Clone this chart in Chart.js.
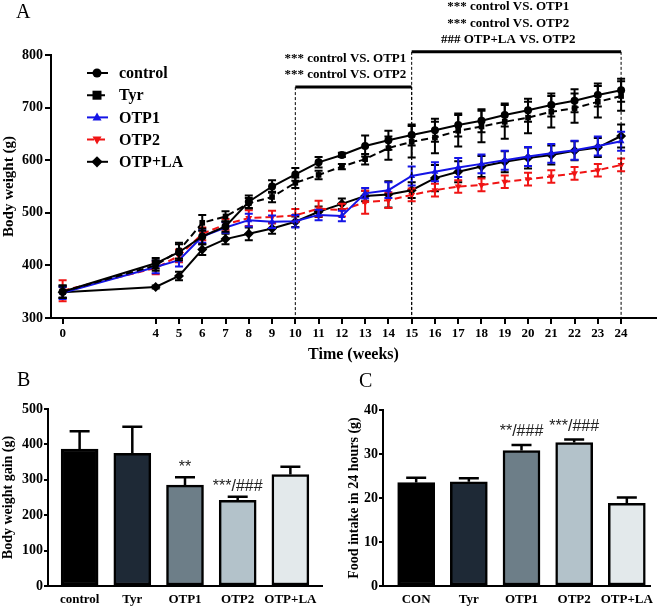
<!DOCTYPE html>
<html>
<head>
<meta charset="utf-8">
<script src="https://cdn.jsdelivr.net/npm/chart.js@4.4.0/dist/chart.umd.min.js"></script>
<style>
    body { margin: 0; background: #fff; }
    #wrap { position: relative; width: 661px; height: 608px; overflow: hidden; font-family: 'Liberation Serif', serif; }
    .panel { position: absolute; }
    .letter { position: absolute; font-size: 20px; line-height: 1; color: #000; }
</style>
</head>
<body>
<div id="wrap">
    <div class="panel" style="left:0;top:0;width:661px;height:370px"><canvas id="chartA"></canvas></div>
    <div class="panel" style="left:0;top:370px;width:330px;height:238px"><canvas id="chartB"></canvas></div>
    <div class="panel" style="left:330px;top:370px;width:331px;height:238px"><canvas id="chartC"></canvas></div>
    <div class="letter" style="left:16px;top:1px">A</div>
    <div class="letter" style="left:17px;top:369px">B</div>
    <div class="letter" style="left:359px;top:370px">C</div>
</div>
<script>
// ---- Panel A data (body weight over time) ----
const weeks = [0, 4, 5, 6, 7, 8, 9, 10, 11, 12, 13, 14, 15, 16, 17, 18, 19, 20, 21, 22, 23, 24];
const weekTicks = [0, 4, 5, 6, 7, 8, 9, 10, 11, 12, 13, 14, 15, 16, 17, 18, 19, 20, 21, 22, 23, 24];

const controlWeight = [350, 404, 425, 455, 474, 521, 550, 573, 596, 610, 627, 638, 648, 657, 667, 675, 686, 695, 705, 713, 724, 733];
const controlErr    = [12, 10, 15, 15, 10, 12, 12, 12, 10, 4, 20, 18, 20, 22, 22, 22, 22, 22, 22, 22, 22, 22];
const tyrWeight     = [350, 400, 428, 481, 493, 518, 530, 557, 572, 588, 602, 623, 635, 643, 656, 664, 673, 681, 692, 699, 711, 722];
const tyrErr        = [12, 10, 15, 15, 10, 10, 10, 10, 8, 5, 10, 22, 30, 30, 30, 30, 32, 30, 30, 28, 30, 28];
const otp1Weight    = [348, 397, 410, 455, 472, 486, 483, 484, 496, 494, 537, 543, 570, 578, 586, 593, 600, 607, 613, 619, 627, 636];
const otp1Err       = [12, 12, 12, 12, 10, 12, 12, 12, 10, 10, 10, 15, 18, 18, 18, 18, 18, 18, 18, 18, 18, 18];
const otp2Weight    = [352, 395, 418, 460, 478, 490, 492, 495, 508, 505, 520, 524, 534, 543, 550, 553, 559, 564, 569, 575, 581, 591];
const otp2Err       = [20, 12, 12, 12, 10, 15, 12, 12, 15, 12, 22, 15, 12, 12, 12, 12, 12, 12, 12, 12, 12, 12];
const otpLaWeight   = [349, 359, 380, 430, 450, 460, 470, 483, 502, 517, 532, 535, 543, 566, 578, 588, 597, 604, 610, 618, 624, 646];
const otpLaErr      = [10, 3, 8, 10, 10, 12, 10, 10, 10, 10, 10, 25, 15, 25, 20, 20, 20, 20, 18, 18, 18, 22];

// ---- Panel B data (body weight gain) ----
const gainLabels = ['control', 'Tyr', 'OTP1', 'OTP2', 'OTP+LA'];
const gainValues = [387, 375, 285, 242, 315];
const gainErr    = [50, 75, 22, 10, 22];
const gainMarks  = ['', '', '**', '***/###', ''];

// ---- Panel C data (food intake) ----
const foodLabels = ['CON', 'Tyr', 'OTP1', 'OTP2', 'OTP+LA'];
const foodValues = [23.5, 23.7, 30.8, 32.6, 18.8];
const foodErr    = [1.1, 0.8, 1.25, 0.7, 1.3];
const foodMarks  = ['', '', '**/###', '***/###', ''];

const barColors = ['#000000', '#1e2936', '#6d7e88', '#b3c2ca', '#e3e9eb'];

const SERIF = "'Liberation Serif', 'Times New Roman', serif";
Chart.defaults.color = '#000';
Chart.defaults.font.family = SERIF;

// Draw a marker shape (used by the legend)
function drawMarker(ctx, style, x, y, r, color) {
    ctx.save();
    ctx.fillStyle = color;
    ctx.setLineDash([]);
    ctx.beginPath();
    if (style === 'circle') {
        ctx.arc(x, y, r, 0, Math.PI * 2);
    } else if (style === 'rect') {
        ctx.rect(x - r, y - r, r * 2, r * 2);
    } else if (style === 'triangle') {
        ctx.moveTo(x, y - r * 1.1);
        ctx.lineTo(x + r, y + r * 0.7);
        ctx.lineTo(x - r, y + r * 0.7);
    } else if (style === 'triangleDown') {
        ctx.moveTo(x, y + r * 1.1);
        ctx.lineTo(x + r, y - r * 0.7);
        ctx.lineTo(x - r, y - r * 0.7);
    } else {
        ctx.moveTo(x, y - r * 1.25);
        ctx.lineTo(x + r * 1.25, y);
        ctx.lineTo(x, y + r * 1.25);
        ctx.lineTo(x - r * 1.25, y);
    }
    ctx.closePath();
    ctx.fill();
    ctx.restore();
}

// Error bars (two-sided for lines, upper only for bars)
const errorBarPlugin = {
    id: 'errorBars',
    afterDatasetDraw(chart, args) {
        const ds = chart.data.datasets[args.index];
        if (!ds.errors) return;
        const yScale = chart.scales.y;
        const ctx = chart.ctx;
        ctx.save();
        ctx.strokeStyle = ds.errorColor || ds.borderColor;
        ctx.lineWidth = ds.errorWidth || 2;
        ctx.setLineDash([]);
        args.meta.data.forEach((el, j) => {
            const v = ds.data[j].y;
            const e = ds.errors[j];
            const x = el.x;
            const top = yScale.getPixelForValue(v + e);
            const bot = ds.upperOnly ? yScale.getPixelForValue(v) : yScale.getPixelForValue(v - e);
            const cap = ds.capWidth || 4;
            ctx.beginPath();
            ctx.moveTo(x, top); ctx.lineTo(x, bot);
            ctx.moveTo(x - cap, top); ctx.lineTo(x + cap, top);
            if (!ds.upperOnly) { ctx.moveTo(x - cap, bot); ctx.lineTo(x + cap, bot); }
            ctx.stroke();
        });
        ctx.restore();
    }
};

// Significance brackets + legend for panel A
const panelAPlugin = {
    id: 'panelA',
    afterDraw(chart) {
        const ctx = chart.ctx;
        const x = chart.scales.x;
        const y = chart.scales.y;
        const bottom = chart.chartArea.bottom;
        const brackets = [
            { from: 10, to: 15, level: 739, textAt: 12.15, lines: ['*** control VS. OTP1', '*** control VS. OTP2'] },
            { from: 15, to: 24, level: 806, textAt: 19.15, lines: ['*** control VS. OTP1', '*** control VS. OTP2', '### OTP+LA VS. OTP2'] }
        ];
        ctx.save();
        brackets.forEach(b => {
            const by = y.getPixelForValue(b.level);
            const x1 = x.getPixelForValue(b.from);
            const x2 = x.getPixelForValue(b.to);
            ctx.strokeStyle = '#000';
            ctx.lineWidth = 1;
            ctx.setLineDash([3, 2]);
            ctx.beginPath();
            ctx.moveTo(x1, by); ctx.lineTo(x1, bottom);
            ctx.moveTo(x2, by); ctx.lineTo(x2, bottom);
            ctx.stroke();
            ctx.setLineDash([]);
            ctx.lineWidth = 3;
            ctx.beginPath();
            ctx.moveTo(x1, by); ctx.lineTo(x2, by);
            ctx.stroke();
            ctx.fillStyle = '#000';
            ctx.font = 'bold 13px ' + SERIF;
            ctx.textAlign = 'center';
            ctx.textBaseline = 'middle';
            const tx = x.getPixelForValue(b.textAt);
            const n = b.lines.length;
            b.lines.forEach((t, k) => {
                ctx.fillText(t, tx, by - 12 - (n - 1 - k) * 16.5);
            });
        });

        // legend
        const lx = chart.chartArea.left + 36;
        let ly = chart.chartArea.top + 18;
        ctx.font = 'bold 16px ' + SERIF;
        ctx.textAlign = 'left';
        ctx.textBaseline = 'middle';
        chart.data.datasets.forEach(ds => {
            ctx.strokeStyle = ds.borderColor;
            ctx.lineWidth = 2;
            ctx.setLineDash(ds.borderDash || []);
            ctx.beginPath();
            ctx.moveTo(lx, ly); ctx.lineTo(lx + 21, ly);
            ctx.stroke();
            drawMarker(ctx, ds.legendMarker, lx + 10, ly, 4.5, ds.borderColor);
            ctx.fillStyle = '#000';
            ctx.fillText(ds.label, lx + 32, ly + 1);
            ly += 22.2;
        });
        ctx.restore();
    }
};

// Text marks above bars (panels B and C)
const barMarksPlugin = {
    id: 'barMarks',
    afterDatasetsDraw(chart, args, opts) {
        const ds = chart.data.datasets[0];
        const ctx = chart.ctx;
        const y = chart.scales.y;
        ctx.save();
        ctx.fillStyle = '#222';
        ctx.font = '16px "Liberation Sans", sans-serif';
        ctx.textAlign = 'center';
        ctx.textBaseline = 'middle';
        chart.getDatasetMeta(0).data.forEach((el, j) => {
            const m = opts.marks[j];
            if (!m) return;
            ctx.fillText(m, el.x, y.getPixelForValue(ds.data[j].y + ds.errors[j]) - opts.gap);
        });
        ctx.restore();
    }
};

function lineSet(label, values, errors, color, dash, style, rotation, marker) {
    return {
        label: label,
        data: weeks.map((w, i) => ({ x: w, y: values[i] })),
        errors: errors,
        borderColor: color,
        backgroundColor: color,
        borderWidth: 2,
        borderDash: dash,
        pointStyle: style,
        rotation: rotation,
        pointRadius: style === 'rectRot' ? 5 : 4,
        pointBorderWidth: 0,
        tension: 0,
        legendMarker: marker,
        capWidth: 4
    };
}

new Chart(document.getElementById('chartA'), {
    type: 'line',
    data: {
        datasets: [
            lineSet('control', controlWeight, controlErr, '#000000', [], 'circle', 0, 'circle'),
            lineSet('Tyr', tyrWeight, tyrErr, '#000000', [7, 4], 'rect', 0, 'rect'),
            lineSet('OTP1', otp1Weight, otp1Err, '#1414e6', [], 'triangle', 0, 'triangle'),
            lineSet('OTP2', otp2Weight, otp2Err, '#f01414', [7, 4], 'triangle', 180, 'triangleDown'),
            lineSet('OTP+LA', otpLaWeight, otpLaErr, '#000000', [], 'rectRot', 0, 'rectRot')
        ]
    },
    options: {
        responsive: true,
        maintainAspectRatio: false,
        animation: false,
        layout: { padding: { top: 55, right: 3, left: 0, bottom: 0 } },
        plugins: { legend: { display: false }, tooltip: { enabled: false } },
        scales: {
            x: {
                type: 'linear',
                min: -0.5,
                max: 25.5,
                afterBuildTicks: s => { s.ticks = weekTicks.map(v => ({ value: v })); },
                afterFit: s => { s.height = 52; },
                grid: { drawOnChartArea: false, tickLength: 6, color: '#000', lineWidth: 2 },
                border: { color: '#000', width: 2 },
                ticks: { color: '#000', autoSkip: false, maxRotation: 0, padding: 2, font: { size: 13, weight: 'bold' } },
                title: { display: true, text: 'Time (weeks)', color: '#000', font: { size: 16, weight: 'bold' }, padding: { top: 0, bottom: 6 } }
            },
            y: {
                min: 300,
                max: 800,
                afterFit: s => { s.width = 51; },
                grid: { drawOnChartArea: false, tickLength: 6, color: '#000', lineWidth: 2 },
                border: { color: '#000', width: 2 },
                ticks: { stepSize: 100, color: '#000', padding: 2, font: { size: 14, weight: 'bold' } },
                title: { display: true, text: 'Body weight (g)', color: '#000', font: { size: 15, weight: 'bold' }, padding: { top: 0, bottom: 2 } }
            }
        }
    },
    plugins: [errorBarPlugin, panelAPlugin]
});

function barChart(id, labels, values, errors, marks, yMax, yStep, yTitle, pad, yWidth, xMin, xMax, gap) {
    return new Chart(document.getElementById(id), {
        type: 'bar',
        data: {
            datasets: [{
                data: values.map((v, i) => ({ x: i, y: v })),
                errors: errors,
                upperOnly: true,
                errorColor: '#000',
                errorWidth: 2.5,
                capWidth: 10,
                backgroundColor: barColors,
                borderColor: '#000',
                borderWidth: 2.5,
                borderSkipped: false,
                barThickness: 37
            }]
        },
        options: {
            responsive: true,
            maintainAspectRatio: false,
            animation: false,
            layout: { padding: pad },
            plugins: { legend: { display: false }, tooltip: { enabled: false }, barMarks: { marks: marks, gap: gap } },
            scales: {
                x: {
                    type: 'linear',
                    offset: false,
                    min: xMin,
                    max: xMax,
                    afterBuildTicks: s => { s.ticks = labels.map((l, i) => ({ value: i })); },
                    afterFit: s => { s.height = 22; },
                    grid: { display: false, drawTicks: false, tickLength: 0, offset: false },
                    border: { color: '#000', width: 2 },
                    ticks: { color: '#000', autoSkip: false, maxRotation: 0, padding: 6, font: { size: 13, weight: 'bold' },
                        callback: v => labels[v] }
                },
                y: {
                    min: 0,
                    max: yMax,
                    afterFit: s => { s.width = yWidth; },
                    grid: { drawOnChartArea: false, tickLength: 4, color: '#000', lineWidth: 2 },
                    border: { color: '#000', width: 2 },
                    ticks: { stepSize: yStep, color: '#000', padding: 1, font: { size: 14, weight: 'bold' } },
                    title: { display: true, text: yTitle, color: '#000', font: { size: 14, weight: 'bold' }, padding: { top: 0, bottom: 2 } }
                }
            }
        },
        plugins: [errorBarPlugin, barMarksPlugin]
    });
}

barChart('chartB', gainLabels, gainValues, gainErr, gainMarks, 500, 100, 'Body weight gain (g)',
    { top: 39, right: 8, left: 0, bottom: 0 }, 48, -0.6, 4.6, 10);
barChart('chartC', foodLabels, foodValues, foodErr, foodMarks, 40, 10, 'Food intake in 24 hours (g)',
    { top: 40, right: 11, left: 16, bottom: 0 }, 37, -0.63, 4.44, 13);
</script>
</body>
</html>
